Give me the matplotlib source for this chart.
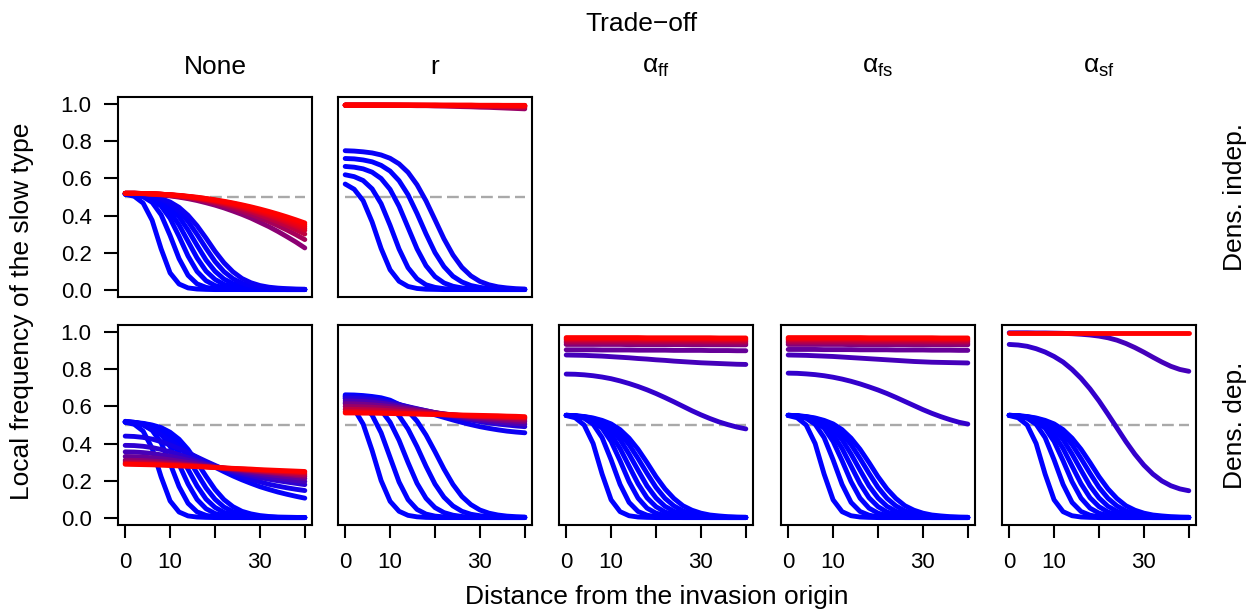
import matplotlib
matplotlib.use("Agg")
import matplotlib.pyplot as plt

plt.rcParams["font.family"] = ["Liberation Sans", "DejaVu Sans"]
plt.rcParams["font.size"] = 19

# distance from the invasion origin (shared x grid)
dist = list(range(0, 41, 2))

# ---- None, density independent ----
ni_b1 = [.515, .504, .467, .374, .220, .090, .030, .009, .003, .001, 0, 0, 0, 0, 0, 0, 0, 0, 0, 0, 0]
ni_b2 = [.517, .513, .501, .471, .404, .292, .167, .077, .031, .012, .004, .002, .001, 0, 0, 0, 0, 0, 0, 0, 0]
ni_b3 = [.517, .514, .505, .488, .451, .384, .287, .181, .098, .048, .022, .010, .004, .002, .001, .001, 0, 0, 0, 0, 0]
ni_b4 = [.516, .513, .506, .492, .466, .420, .349, .260, .171, .100, .055, .028, .014, .007, .003, .002, .001, .001, 0, 0, 0]
ni_b5 = [.516, .513, .507, .497, .477, .445, .393, .321, .239, .160, .099, .057, .032, .017, .009, .005, .003, .001, .001, .001, 0]
ni_b6 = [.516, .514, .509, .500, .486, .461, .423, .368, .298, .223, .152, .097, .059, .034, .020, .011, .006, .003, .002, .001, .001]
ni_b7 = [.516, .514, .510, .503, .491, .473, .444, .401, .345, .278, .207, .145, .096, .060, .037, .022, .013, .008, .005, .003, .002]
ni_r8 = [.52, .52, .518, .515, .511, .506, .499, .491, .481, .469, .456, .441, .424, .406, .386, .363, .34, .314, .286, .257, .225]
ni_r7 = [.52, .52, .518, .516, .513, .508, .502, .495, .487, .477, .466, .453, .439, .423, .406, .387, .367, .345, .322, .297, .27]
ni_r6 = [.52, .52, .519, .517, .514, .51, .504, .498, .491, .482, .472, .461, .449, .435, .42, .403, .385, .366, .346, .324, .30]
ni_r5 = [.52, .52, .519, .517, .514, .511, .506, .5, .493, .486, .477, .466, .455, .443, .429, .414, .398, .38, .361, .341, .32]
ni_r4 = [.52, .52, .519, .517, .515, .511, .507, .501, .495, .487, .479, .469, .458, .446, .433, .419, .404, .387, .369, .35, .33]
ni_r3 = [.52, .52, .519, .517, .515, .512, .507, .502, .496, .489, .481, .472, .462, .45, .438, .424, .41, .394, .377, .359, .34]
ni_r2 = [.52, .52, .519, .517, .515, .512, .508, .503, .497, .491, .483, .474, .465, .454, .443, .43, .416, .401, .385, .368, .35]
ni_r1 = [.52, .52, .519, .518, .515, .512, .509, .504, .499, .492, .485, .477, .468, .458, .447, .435, .422, .408, .393, .377, .36]

# ---- r, density independent ----
ri_b1 = [.570, .542, .480, .365, .222, .107, .045, .017, .006, .002, .001, 0, 0, 0, 0, 0, 0, 0, 0, 0, 0]
ri_b2 = [.620, .610, .589, .544, .464, .347, .219, .118, .058, .026, .012, .005, .002, .001, 0, 0, 0, 0, 0, 0, 0]
ri_b3 = [.665, .661, .652, .634, .600, .541, .450, .335, .220, .129, .070, .036, .018, .009, .005, .002, .001, 0, 0, 0, 0]
ri_b4 = [.708, .706, .700, .690, .671, .640, .588, .512, .411, .301, .200, .124, .072, .041, .022, .012, .006, .004, .002, .001, .001]
ri_b5 = [.750, .748, .744, .738, .727, .709, .679, .633, .566, .479, .377, .274, .187, .120, .074, .044, .026, .015, .009, .005, .003]
ri_r8 = [.996, .996, .996, .996, .995, .995, .995, .994, .993, .993, .992, .991, .99, .988, .987, .985, .984, .982, .98, .978, .976]
ri_r7 = [.996, .996, .996, .996, .996, .995, .995, .995, .994, .994, .993, .993, .992, .991, .991, .99, .989, .988, .986, .985, .984]
ri_r6 = [.996, .996, .996, .996, .996, .996, .995, .995, .995, .995, .994, .994, .993, .993, .992, .992, .991, .99, .99, .989, .988]
ri_r5 = [.996, .996, .996, .996, .996, .996, .996, .995, .995, .995, .995, .994, .994, .994, .993, .993, .992, .992, .991, .991, .99]
ri_r4 = [.996, .996, .996, .996, .996, .996, .996, .996, .995, .995, .995, .995, .995, .994, .994, .994, .994, .993, .993, .992, .992]
ri_r3 = [.996, .996, .996, .996, .996, .996, .996, .996, .996, .995, .995, .995, .995, .995, .995, .994, .994, .994, .994, .993, .993]
ri_r2 = [.996, .996, .996, .996, .996, .996, .996, .996, .996, .996, .996, .995, .995, .995, .995, .995, .995, .995, .994, .994, .994]
ri_r1 = [.996, .996, .996, .996, .996, .996, .996, .996, .996, .996, .996, .996, .996, .996, .996, .995, .995, .995, .995, .995, .995]

# ---- None, density dependent ----
nd_i1 = [.52, .515, .50, .475, .447, .415, .383, .352, .323, .296, .272, .248, .225, .204, .185, .167, .152, .138, .126, .115, .105]
nd_i2 = [.44, .438, .433, .424, .41, .392, .372, .35, .327, .304, .282, .261, .241, .223, .207, .193, .18, .17, .161, .153, .146]
nd_i3 = [.39, .389, .385, .378, .368, .355, .34, .324, .307, .291, .276, .262, .249, .237, .226, .216, .207, .199, .192, .185, .178]
nd_i4 = [.355, .354, .351, .346, .339, .331, .321, .31, .299, .287, .276, .265, .255, .245, .236, .228, .22, .213, .206, .2, .195]
nd_i5 = [.33, .329, .327, .323, .318, .312, .305, .298, .29, .282, .274, .266, .259, .252, .245, .238, .232, .226, .221, .216, .211]
nd_i6 = [.31, .309, .308, .305, .302, .298, .293, .288, .283, .277, .272, .267, .262, .257, .252, .247, .242, .237, .232, .227, .222]
nd_i7 = [.30, .299, .298, .296, .293, .29, .287, .283, .279, .275, .271, .267, .263, .259, .255, .251, .247, .243, .239, .235, .231]
nd_r1 = [.292, .291, .29, .289, .287, .285, .283, .28, .277, .274, .271, .268, .265, .262, .259, .256, .253, .25, .247, .244, .241]
nd_r2 = [.288, .287, .286, .285, .283, .281, .279, .277, .275, .273, .27, .268, .266, .264, .262, .259, .257, .255, .253, .251, .249]

# ---- r, density dependent ----
rd_b1 = [.620, .586, .505, .362, .200, .088, .034, .012, .004, .001, 0, 0, 0, 0, 0, 0, 0, 0, 0, 0, 0]
rd_b2 = [.642, .631, .606, .553, .458, .325, .192, .097, .044, .019, .008, .004, .002, .001, 0, 0, 0, 0, 0, 0, 0]
rd_b3 = [.650, .646, .636, .617, .580, .515, .417, .297, .185, .104, .054, .027, .013, .006, .003, .001, .001, 0, 0, 0, 0]
rd_b4 = [.657, .655, .650, .641, .626, .597, .550, .478, .383, .277, .181, .110, .063, .034, .018, .010, .005, .003, .002, .001, .001]
rd_b5 = [.663, .662, .659, .654, .647, .634, .611, .575, .521, .446, .356, .262, .179, .114, .070, .041, .024, .014, .008, .005, .003]
rd_j1 = [.655, .654, .651, .645, .636, .624, .611, .597, .583, .569, .555, .541, .527, .514, .502, .491, .482, .474, .467, .462, .458]
rd_j2 = [.645, .644, .641, .636, .629, .62, .61, .599, .588, .577, .566, .555, .545, .535, .526, .518, .511, .505, .5, .495, .491]
rd_j3 = [.63, .629, .627, .623, .618, .611, .603, .595, .586, .577, .567, .558, .549, .541, .533, .526, .52, .515, .511, .508, .505]
rd_j4 = [.615, .614, .612, .609, .605, .6, .594, .588, .581, .574, .567, .56, .553, .546, .54, .535, .53, .526, .523, .52, .518]
rd_j5 = [.6, .599, .598, .596, .593, .589, .585, .58, .575, .57, .565, .56, .555, .55, .546, .542, .538, .535, .532, .529, .527]
rd_r1 = [.585, .584, .583, .582, .58, .577, .574, .571, .568, .565, .561, .558, .555, .552, .549, .546, .544, .542, .54, .538, .536]
rd_r2 = [.572, .572, .571, .57, .569, .567, .565, .563, .561, .559, .557, .555, .553, .551, .549, .547, .546, .544, .543, .541, .54]
rd_r3 = [.565, .565, .564, .564, .563, .562, .561, .56, .559, .558, .557, .556, .555, .554, .553, .552, .551, .55, .548, .547, .545]

# ---- alpha trade-offs, density dependent: low-frequency fan ----
ab1 = [.551, .539, .500, .400, .235, .096, .032, .010, .003, .001, 0, 0, 0, 0, 0, 0, 0, 0, 0, 0, 0]
ab2 = [.553, .549, .536, .504, .432, .312, .179, .082, .033, .013, .004, .002, .001, 0, 0, 0, 0, 0, 0, 0, 0]
ab3 = [.553, .550, .540, .522, .483, .411, .307, .194, .105, .051, .024, .011, .004, .002, .001, .001, 0, 0, 0, 0, 0]
ab4 = [.552, .549, .541, .526, .499, .449, .373, .278, .183, .107, .059, .030, .015, .007, .003, .002, .001, .001, 0, 0, 0]
ab5 = [.552, .549, .542, .532, .510, .476, .421, .343, .256, .171, .106, .061, .034, .018, .010, .005, .003, .001, .001, .001, 0]
ab6 = [.552, .550, .545, .535, .520, .493, .453, .394, .319, .239, .163, .104, .063, .036, .021, .012, .006, .003, .002, .001, .001]
ab7 = [.552, .550, .546, .538, .525, .506, .475, .429, .369, .297, .221, .155, .103, .064, .040, .024, .014, .009, .005, .003, .002]

# alpha_ff
aff_m1 = [.775, .774, .771, .766, .759, .75, .738, .724, .708, .69, .67, .648, .625, .601, .577, .555, .535, .517, .502, .489, .479]
aff_m2 = [.878, .877, .876, .874, .872, .869, .866, .863, .859, .856, .852, .849, .845, .842, .839, .836, .834, .832, .830, .828, .827]
aff_m3 = [.906, .906, .906, .906, .905, .905, .905, .905, .904, .904, .904, .904, .903, .903, .903, .903, .902, .902, .902, .901, .901]
aff_r1 = [.935, .935, .935, .935, .935, .935, .935, .934, .934, .934, .934, .934, .934, .934, .933, .933, .933, .933, .933, .933, .933]
aff_r2 = [.944, .944, .944, .944, .944, .944, .944, .943, .943, .943, .943, .943, .943, .943, .942, .942, .942, .942, .942, .942, .942]
aff_r3 = [.952, .952, .952, .952, .952, .952, .952, .952, .951, .951, .951, .951, .951, .951, .951, .951, .950, .950, .950, .950, .950]
aff_r4 = [.960, .960, .960, .960, .960, .960, .960, .960, .959, .959, .959, .959, .959, .959, .959, .959, .958, .958, .958, .958, .958]
aff_r5 = [.966, .966, .966, .966, .966, .966, .966, .966, .966, .965, .965, .965, .965, .965, .965, .965, .965, .964, .964, .964, .964]
aff_r6 = [.972, .972, .972, .972, .972, .972, .972, .972, .972, .971, .971, .971, .971, .971, .971, .971, .971, .970, .970, .970, .970]

# alpha_fs
afs_m1 = [.78, .779, .776, .772, .766, .758, .748, .736, .722, .706, .689, .67, .649, .627, .605, .583, .563, .545, .529, .515, .505]
afs_m2 = [.878, .877, .876, .874, .872, .87, .867, .864, .861, .858, .855, .852, .849, .846, .843, .841, .839, .838, .837, .836, .835]
afs_m3 = [.908, .908, .908, .908, .907, .907, .907, .907, .906, .906, .906, .906, .905, .905, .905, .905, .904, .904, .904, .903, .903]

# alpha_sf
asf_m2 = [.935, .932, .925, .912, .894, .87, .84, .80, .752, .695, .63, .558, .484, .41, .342, .283, .235, .198, .172, .155, .145]
asf_m1 = [.998, .998, .998, .997, .997, .996, .995, .993, .99, .986, .98, .971, .958, .94, .918, .893, .866, .84, .817, .8, .79]
asf_r1 = [.998, .998, .998, .998, .998, .998, .998, .998, .998, .998, .998, .998, .998, .998, .998, .998, .998, .998, .998, .998, .998]

col_titles = ["None", "r", r"$\mathregular{α_{ff}}$", r"$\mathregular{α_{fs}}$", r"$\mathregular{α_{sf}}$"]
row_titles = ["Dens. indep.", "Dens. dep."]

# (row, col, curves, blue->red mix of each curve)
panels = [
    (0, 0, [ni_b1, ni_b2, ni_b3, ni_b4, ni_b5, ni_b6, ni_b7,
            ni_r8, ni_r7, ni_r6, ni_r5, ni_r4, ni_r3, ni_r2, ni_r1],
     [0, 0, 0, 0, 0, .02, .04, .55, .65, .75, .82, .88, .92, .96, 1]),
    (0, 1, [ri_b1, ri_b2, ri_b3, ri_b4, ri_b5,
            ri_r8, ri_r7, ri_r6, ri_r5, ri_r4, ri_r3, ri_r2, ri_r1],
     [0, 0, 0, 0, .03, .6, .72, .8, .86, .9, .94, .97, 1]),
    (1, 0, [ni_b1, ni_b2, ni_b3, ni_b4, ni_b5, ni_b6,
            nd_i1, nd_i2, nd_i3, nd_i4, nd_i5, nd_i6, nd_i7, nd_r1, nd_r2],
     [0, 0, 0, 0, 0, 0, .02, .08, .18, .28, .4, .55, .7, .85, 1]),
    (1, 1, [rd_b1, rd_b2, rd_b3, rd_b4, rd_b5,
            rd_j1, rd_j2, rd_j3, rd_j4, rd_j5, rd_r1, rd_r2, rd_r3],
     [0, 0, 0, 0, 0, .05, .15, .3, .45, .6, .75, .88, 1]),
    (1, 2, [ab1, ab2, ab3, ab4, ab5, ab6, ab7, aff_m1, aff_m2, aff_m3,
            aff_r1, aff_r2, aff_r3, aff_r4, aff_r5, aff_r6],
     [0, 0, 0, 0, 0, 0, 0, .2, .27, .4, .5, .6, .7, .8, .9, 1]),
    (1, 3, [ab1, ab2, ab3, ab4, ab5, ab6, ab7, afs_m1, afs_m2, afs_m3,
            aff_r1, aff_r2, aff_r3, aff_r4, aff_r5, aff_r6],
     [0, 0, 0, 0, 0, 0, 0, .2, .27, .4, .5, .6, .7, .8, .9, 1]),
    (1, 4, [ab1, ab2, ab3, ab4, ab5, ab6, ab7, asf_m2, asf_m1, asf_r1],
     [0, 0, 0, 0, 0, 0, 0, .2, .27, 1]),
]

W, H = 1256, 612
fig = plt.figure(figsize=(W / 100, H / 100), dpi=100)

lefts = [118, 338, 559, 781, 1002]
tops = [97, 325]
pw, ph = 194, 200

for row, col, curves, mix in panels:
    ax = fig.add_axes([lefts[col] / W, 1 - (tops[row] + ph) / H, pw / W, ph / H])
    ax.set_xlim(-1.6, 41.6)
    ax.set_ylim(-0.04, 1.04)
    ax.plot([0, 40], [0.5, 0.5], color="darkgray", lw=1.7, dashes=(5, 2.2))
    for c, w in zip(curves, mix):
        ax.plot(dist, c, color=(w, 0, 1 - w), lw=3.5,
                solid_capstyle="round", solid_joinstyle="round")
    for s in ax.spines.values():
        s.set_linewidth(1.5)
    if col == 0:
        ax.set_yticks([0, .2, .4, .6, .8, 1.0])
        ax.set_yticklabels(["0.0", "0.2", "0.4", "0.6", "0.8", "1.0"], fontsize=16)
        ax.tick_params(axis="y", length=10, width=1.5, pad=9)
    else:
        ax.set_yticks([])
    if row == 1:
        ax.set_xticks([0, 10, 20, 30, 40])
        ax.set_xticklabels(["0", "10", "", "30", ""], fontsize=16)
        ax.tick_params(axis="x", length=9.5, width=1.5, pad=10)
    else:
        ax.set_xticks([])

fig.text(641 / W, 1 - 24 / H, "Trade\u2212off", ha="center", va="center")
for col, t in enumerate(col_titles):
    fig.text((lefts[col] + pw / 2) / W, 1 - 67 / H, t, ha="center", va="center")
for row, t in enumerate(row_titles):
    fig.text(1235 / W, 1 - (tops[row] + ph / 2) / H, t, rotation=90, ha="center", va="center")
fig.text(22 / W, 1 - 311 / H, "Local frequency of the slow type", rotation=90, ha="center", va="center")
fig.text(657 / W, 1 - 597 / H, "Distance from the invasion origin", ha="center", va="center")

fig.savefig("out.png", dpi=100)
